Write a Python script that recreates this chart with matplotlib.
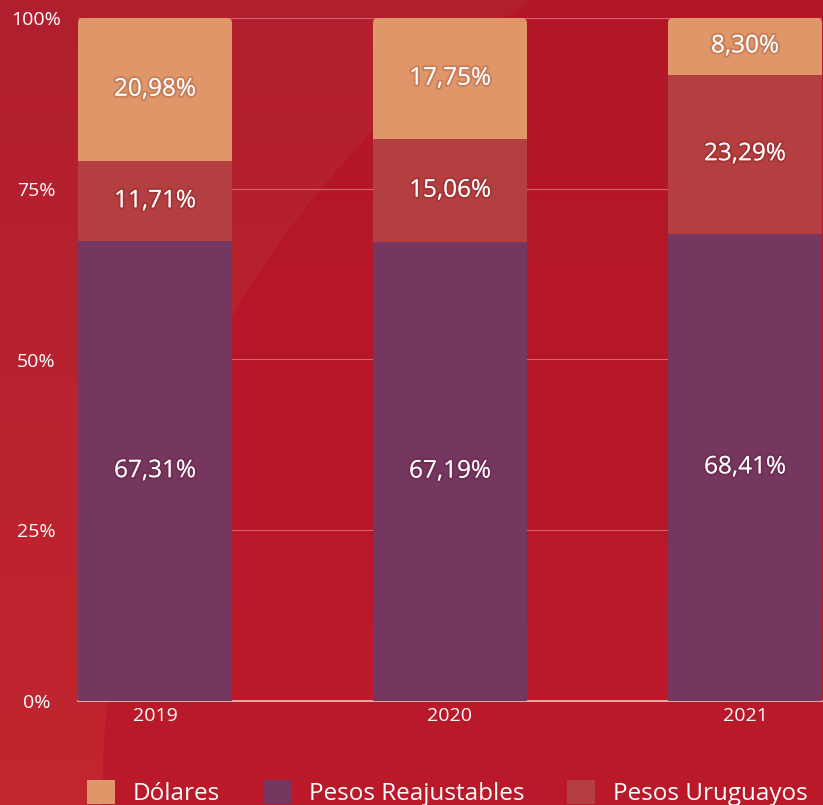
import numpy as np
import matplotlib.pyplot as plt
import matplotlib.patheffects as pe
from matplotlib.colors import to_rgb
from matplotlib.patches import FancyBboxPatch

years = ['2019', '2020', '2021']
pesos_reajustables = [67.31, 67.19, 68.41]
pesos_uruguayos = [11.71, 15.06, 23.29]
dolares = [20.98, 17.75, 8.30]
y_ticks = [0, 25, 50, 75, 100]
y_tick_labels = ['0%', '25%', '50%', '75%', '100%']

col_pr = '#753660'
col_pu = '#b43f40'
col_do = '#df9669'

plt.rcParams['font.family'] = ['Open Sans', 'DejaVu Sans']

W, H = 823, 805
fig = plt.figure(figsize=(W / 100, H / 100), dpi=100)

# background: lighter red outside a big darker disc centred bottom-right
bg = fig.add_axes([0, 0, 1, 1], zorder=-1)
bg.axis('off')
yy, xx = np.mgrid[0:H, 0:W]
t = (yy / H)[..., None]
outside = (1 - t) * np.array(to_rgb('#b11f2e')) + t * np.array(to_rgb('#c2262f'))
inside = (1 - t) * np.array(to_rgb('#b21628')) + t * np.array(to_rgb('#bb1a2a'))
disc = ((xx - 1052) ** 2 + (yy - 795) ** 2) < 950 ** 2
img = np.where(disc[..., None], inside, outside)
bg.imshow(img, extent=(0, W, H, 0), aspect='auto', interpolation='bilinear')
bg.set_xlim(0, W)
bg.set_ylim(H, 0)

ax = fig.add_axes([78 / W, 104 / H, 744 / W, 683 / H])
ax.set_facecolor('none')

x = np.arange(len(years))
w = 0.522
shadow = [pe.withStroke(linewidth=3, foreground=(0.3, 0, 0, 0.15))]

b1 = ax.bar(x, pesos_reajustables, w, color=col_pr, label='Pesos Reajustables', zorder=3)
b2 = ax.bar(x, pesos_uruguayos, w, bottom=pesos_reajustables, color=col_pu,
            label='Pesos Uruguayos', zorder=3)
bottom2 = np.array(pesos_reajustables) + np.array(pesos_uruguayos)
b3 = ax.bar(x, dolares, w, bottom=bottom2, color=col_do, label='Dólares', zorder=3)

ax.set_xlim(-w / 2, 2 + w / 2)
ax.set_ylim(0, 100)

# small rounded corners on top of each stacked bar
px_x = (2 + w) / 744
px_y = 100 / 683
for i, rect in enumerate(b3):
    clip = FancyBboxPatch((rect.get_x(), 0), rect.get_width(), 100,
                          boxstyle=f'round,pad=0,rounding_size={5 * px_x}',
                          mutation_aspect=px_y / px_x, transform=ax.transData)
    rect.set_clip_path(clip)

for bars, vals in [(b1, pesos_reajustables), (b2, pesos_uruguayos), (b3, dolares)]:
    for rect, v in zip(bars, vals):
        cx = rect.get_x() + rect.get_width() / 2
        cy = rect.get_y() + rect.get_height() / 2
        ax.text(cx, cy, f'{v:.2f}%'.replace('.', ','), ha='center', va='center',
                color='white', fontsize=17.5, zorder=5, path_effects=shadow)

ax.set_yticks(y_ticks)
ax.set_yticklabels(y_tick_labels)
ax.set_xticks(x)
ax.set_xticklabels(years)
ax.tick_params(axis='y', length=0, pad=30, colors='white', labelsize=14)
ax.tick_params(axis='x', length=0, pad=4, colors='white', labelsize=14)
for lab in ax.get_yticklabels():
    lab.set_ha('center')

ax.grid(axis='y', color='#d9616b', linewidth=0.8, zorder=1)
ax.set_axisbelow(True)
for s in ['top', 'right', 'left']:
    ax.spines[s].set_visible(False)
ax.spines['bottom'].set_color('#f0c2b8')
ax.spines['bottom'].set_linewidth(1.2)

handles = [b3, b1, b2]
leg = fig.legend(handles, ['Dólares', 'Pesos Reajustables', 'Pesos Uruguayos'],
                 loc='center left', bbox_to_anchor=(87 / W, 1 - 793 / H), ncol=3,
                 frameon=False, fontsize=17.5, labelcolor='white', handlelength=1.15,
                 handleheight=1.15, handletextpad=0.74, columnspacing=1.75,
                 borderpad=0, borderaxespad=0)

fig.savefig('out.png', dpi=100)
